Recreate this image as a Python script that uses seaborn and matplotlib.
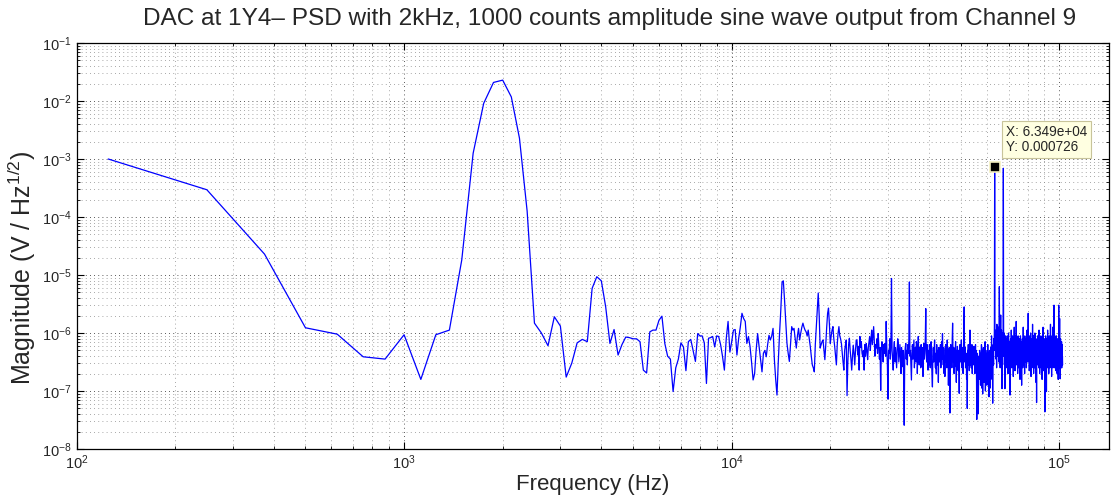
import numpy as np
import pandas as pd
import matplotlib
matplotlib.use("Agg")
import matplotlib.pyplot as plt
import matplotlib.ticker as mticker
import seaborn as sns

# ---------------- data ----------------
title_text = "DAC at 1Y4\u2013 PSD with 2kHz, 1000 counts amplitude sine wave output from Channel 9"
x_label = "Frequency (Hz)"
y_label = r"Magnitude (V / Hz$^{1/2}$)"

bin_step_hz = 124.98          # FFT bin spacing; bin k is at k * bin_step_hz
peak_bin = 508                # data-tip bin (1-based)

# log10 of magnitude (V/Hz^1/2) for bins 1..819
log_mag = [
    -3.00, -3.53, -4.64, -5.91, -6.02, -6.41, -6.45, -6.03, -6.80, -6.03,
    -5.95, -4.74, -2.90, -2.04, -1.68, -1.64, -1.93, -2.64, -3.90, -5.83,
    -6.00, -6.22, -5.72, -5.88, -6.76, -6.52, -6.17, -6.11, -6.15, -5.23,
    -5.03, -5.10, -5.55, -6.18, -5.94, -6.38, -6.20, -6.07, -6.08, -6.10,
    -6.10, -6.15, -6.64, -6.69, -5.98, -5.95, -5.95, -5.78, -5.71, -6.18,
    -6.40, -6.45, -7.01, -6.60, -6.45, -6.17, -6.24, -6.65, -6.15, -6.11,
    -6.30, -6.49, -6.01, -6.05, -6.05, -6.17, -6.87, -6.09, -6.08, -6.06,
    -6.24, -6.05, -6.06, -6.20, -6.40, -6.64, -6.10, -5.80, -6.33, -6.15,
    -5.95, -5.94, -6.38, -6.10, -5.90, -5.66, -5.75, -5.80, -6.18, -6.06,
    -6.23, -6.50, -6.81, -6.70, -6.30, -6.01, -6.23, -6.46, -6.67, -6.35,
    -6.30, -6.41, -6.20, -6.04, -6.12, -6.05, -5.92, -6.46, -6.80, -7.07,
    -6.50, -6.01, -5.60, -5.12, -5.10, -5.43, -5.80, -6.18, -6.35, -6.49,
    -6.20, -5.89, -5.95, -5.92, -6.10, -6.26, -6.05, -5.92, -6.12, -6.00,
    -5.90, -5.83, -5.90, -5.95, -5.98, -6.05, -5.95, -6.10, -6.23, -6.40,
    -6.55, -6.60, -6.67, -6.20, -5.89, -5.60, -5.31, -5.70, -6.26, -6.20,
    -6.15, -6.12, -6.30, -6.46, -6.20, -5.90, -5.66, -5.57, -5.85, -6.18,
    -6.05, -5.95, -5.89, -6.10, -6.23, -6.40, -6.55, -6.20, -6.00, -5.89,
    -6.05, -6.10, -6.18, -6.35, -6.50, -6.64, -6.30, -6.20, -6.12, -7.08,
    -6.50, -6.20, -6.09, -6.30, -6.45, -6.64, -6.40, -6.21, -6.35, -6.55,
    -6.30, -6.12, -6.12, -6.38, -6.23, -6.64, -6.06, -6.25, -6.15, -6.35,
    -6.41, -6.30, -6.64, -6.20, -6.40, -6.18, -6.30, -6.46, -6.25, -6.15,
    -6.06, -6.30, -6.10, -5.95, -6.20, -6.05, -5.89, -6.15, -6.40, -6.20,
    -6.26, -6.10, -6.35, -6.01, -6.20, -6.45, -6.25, -6.99, -6.30, -6.15,
    -6.26, -6.50, -6.20, -6.35, -6.18, -6.40, -5.80, -6.25, -6.55, -7.14,
    -6.30, -6.35, -6.10, -6.45, -6.20, -5.06, -6.30, -6.45, -6.64, -6.30,
    -6.15, -6.50, -6.25, -6.41, -6.60, -6.30, -6.10, -6.18, -6.50, -6.35,
    -6.20, -6.41, -6.70, -6.25, -6.45, -6.58, -6.30, -6.80, -7.59, -6.40,
    -6.25, -6.18, -6.45, -6.30, -6.55, -6.20, -6.35, -6.10, -5.12, -6.40,
    -6.30, -6.55, -6.81, -6.35, -6.20, -6.45, -6.30, -6.12, -6.60, -6.35,
    -6.25, -6.50, -6.15, -6.23, -6.70, -6.30, -6.06, -6.40, -6.55, -6.25,
    -6.35, -6.60, -6.20, -6.58, -6.40, -6.25, -6.75, -6.30, -6.18, -6.45,
    -6.30, -6.10, -5.58, -6.35, -6.50, -6.20, -6.45, -6.64, -6.30, -6.55,
    -6.20, -6.23, -6.60, -6.35, -6.15, -6.50, -6.70, -6.93, -6.40, -6.25,
    -6.50, -6.30, -6.12, -6.45, -6.60, -6.35, -6.70, -6.20, -6.40, -6.55,
    -6.30, -6.85, -6.25, -6.50, -6.35, -6.46, -6.20, -6.60, -6.30, -6.15,
    -6.45, -6.01, -6.35, -6.55, -6.25, -6.70, -6.40, -6.75, -6.30, -6.20,
    -6.50, -6.35, -6.60, -6.12, -6.45, -6.30, -6.90, -6.40, -6.25, -6.55,
    -7.38, -6.40, -6.20, -6.50, -6.30, -6.60, -6.10, -5.83, -6.35, -6.50,
    -6.25, -6.70, -6.40, -6.58, -6.30, -6.15, -6.45, -6.85, -6.30, -6.50,
    -6.23, -6.40, -6.65, -6.30, -6.55, -7.04, -6.35, -6.20, -6.50, -6.30,
    -6.45, -6.12, -6.60, -6.35, -6.25, -6.50, -6.70, -6.30, -5.80, -5.55,
    -6.30, -6.50, -6.25, -6.60, -6.46, -6.35, -6.80, -6.40, -7.30, -6.30,
    -6.55, -6.20, -6.45, -6.30, -6.65, -6.25, -5.95, -6.40, -6.55, -6.30,
    -6.60, -6.35, -6.20, -6.70, -6.41, -6.30, -6.55, -6.25, -6.23, -6.50,
    -6.35, -6.70, -6.40, -6.20, -6.55, -6.30, -6.64, -7.49, -6.50, -6.35,
    -6.60, -6.46, -7.39, -6.40, -6.55, -6.80, -6.30, -6.65, -6.45, -6.90,
    -6.35, -6.70, -6.20, -6.95, -6.50, -6.30, -7.05, -6.45, -6.25, -6.75,
    -6.40, -6.85, -6.30, -6.60, -6.15, -7.00, -6.50, -6.35, -6.70, -6.40,
    -6.90, -6.30, -6.55, -6.20, -6.80, -6.45, -6.35, -7.10, -6.50, -6.30,
    -6.60, -6.95, -6.40, -6.25, -6.70, -6.50, -6.05, -6.45, -6.80, -6.40,
    -7.21, -6.40, -6.20, -6.55, -6.10, -6.30, -5.90, -3.139, -6.00, -6.20,
    -6.30, -5.95, -6.45, -6.10, -6.60, -5.85, -6.25, -6.40, -6.05, -6.35,
    -6.15, -5.90, -6.50, -6.20, -5.20, -6.30, -6.05, -6.60, -6.20, -5.69,
    -6.35, -6.10, -5.95, -6.50, -6.96, -6.20, -6.00, -6.35, -6.10, -3.16,
    -6.10, -6.40, -6.00, -6.55, -6.20, -6.96, -6.30, -6.05, -6.45, -6.15,
    -6.35, -6.10, -6.60, -6.25, -6.05, -6.45, -6.20, -6.70, -6.30, -6.00,
    -6.40, -6.15, -6.55, -6.25, -6.80, -7.07, -6.30, -6.10, -6.45, -6.20,
    -5.95, -6.35, -6.60, -6.15, -6.30, -6.05, -6.50, -6.25, -6.75, -6.20,
    -6.40, -6.10, -5.90, -6.45, -6.30, -6.65, -6.15, -6.35, -6.05, -6.50,
    -5.80, -6.30, -6.55, -6.20, -6.40, -6.10, -6.70, -6.25, -6.05, -6.45,
    -6.20, -6.60, -6.35, -6.10, -6.50, -6.25, -6.80, -6.30, -6.05, -6.40,
    -6.15, -6.55, -6.35, -6.90, -6.20, -6.45, -6.10, -6.30, -6.60, -6.25,
    -5.90, -6.40, -6.20, -6.55, -6.05, -6.35, -6.70, -6.15, -6.45, -6.25,
    -6.10, -6.50, -6.30, -6.05, -6.60, -6.20, -6.40, -5.95, -6.35, -6.15,
    -6.50, -6.25, -5.66, -6.30, -6.10, -6.45, -6.20, -6.65, -6.35, -6.05,
    -6.40, -6.20, -6.55, -6.00, -6.30, -6.75, -6.15, -6.45, -6.25, -6.60,
    -6.10, -6.35, -5.85, -6.50, -6.20, -6.40, -6.05, -6.70, -6.30, -6.15,
    -6.45, -6.25, -6.60, -6.00, -6.35, -6.15, -6.50, -6.30, -6.85, -6.20,
    -6.40, -7.20, -6.25, -6.10, -6.45, -6.30, -6.05, -6.55, -6.20, -6.40,
    -6.15, -6.60, -6.30, -5.95, -6.45, -6.20, -6.70, -6.35, -6.10, -6.50,
    -6.25, -6.40, -6.05, -6.60, -6.30, -6.15, -6.55, -6.20, -6.80, -6.35,
    -6.10, -6.45, -6.25, -5.90, -6.50, -6.30, -6.65, -6.15, -6.40, -6.20,
    -6.55, -6.10, -7.36, -6.35, -6.20, -6.45, -6.05, -6.60, -6.30, -6.25,
    -7.01, -6.30, -6.10, -6.50, -6.20, -6.40, -5.95, -6.60, -6.25, -6.45,
    -6.15, -6.35, -6.70, -6.20, -6.05, -6.50, -6.30, -6.10, -6.60, -6.25,
    -6.40, -5.85, -6.30, -6.55, -6.15, -6.45, -6.20, -6.75, -6.35, -6.05,
    -6.50, -6.25, -6.40, -5.90, -6.60, -6.20, -6.35, -6.10, -6.50, -6.30,
    -5.52, -6.30, -6.60, -6.20, -6.40, -6.05, -6.55, -6.25, -6.10, -6.45,
    -6.20, -6.65, -6.35, -6.05, -6.50, -6.30, -6.15, -6.70, -6.25, -6.40,
    -6.10, -6.55, -6.30, -6.80, -6.20, -6.45, -5.52, -6.35, -6.60, -6.25,
    -6.40, -5.75, -6.55, -6.20, -6.79, -6.35, -6.10, -6.50, -6.30, -6.60,
    -6.25, -6.45, -6.15, -6.60, -6.35, -6.20, -6.50, -6.40, -6.55,
]

# ---------------- frame ----------------
bins = np.arange(1, len(log_mag) + 1)
df = pd.DataFrame({
    "freq": bins * bin_step_hz,
    "mag": np.power(10.0, np.array(log_mag)),
})

sns.set_theme(style="ticks")
plt.rcParams["font.family"] = ["Liberation Sans", "DejaVu Sans"]
plt.rcParams["mathtext.fontset"] = "custom"
plt.rcParams["mathtext.rm"] = "Liberation Sans"
plt.rcParams["mathtext.it"] = "Liberation Sans:italic"
plt.rcParams["mathtext.bf"] = "Liberation Sans:bold"

W, H = 1111, 498
fig = plt.figure(figsize=(W / 100, H / 100), dpi=100)
fig.patch.set_facecolor("white")
ax_left, ax_right, ax_top, ax_bottom = 76.5, 1109.0, 43.0, 449.0
ax_w, ax_h = ax_right - ax_left, ax_bottom - ax_top
ax = fig.add_axes([ax_left / W, 1 - ax_bottom / H, ax_w / W, ax_h / H])

sns.lineplot(data=df, x="freq", y="mag", ax=ax, color="#0000ff",
             linewidth=0.9, estimator=None, sort=False, legend=False)

ax.set_xscale("log")
ax.set_yscale("log")
ax.set_xlim(1e2, 10 ** (2 + ax_w / 327.6))
ax.set_ylim(1e-8, 1e-1)

ax.xaxis.set_major_locator(mticker.LogLocator(base=10, numticks=20))
ax.yaxis.set_major_locator(mticker.LogLocator(base=10, numticks=20))
ax.xaxis.set_minor_locator(mticker.LogLocator(base=10, subs=np.arange(2, 10), numticks=50))
ax.yaxis.set_minor_locator(mticker.LogLocator(base=10, subs=np.arange(2, 10), numticks=50))
ax.xaxis.set_minor_formatter(mticker.NullFormatter())
ax.yaxis.set_minor_formatter(mticker.NullFormatter())

ax.grid(which="major", linestyle=(0, (1, 4)), color="#222222", linewidth=0.6)
ax.grid(which="minor", linestyle=(0, (1, 4)), color="#8a8a8a", linewidth=0.6)
ax.set_axisbelow(True)

ax.tick_params(which="both", direction="in", top=True, right=True,
               color="black", labelsize=10.5)
ax.tick_params(which="major", length=5, width=0.8)
ax.tick_params(which="minor", length=2.5, width=0.6)
for s in ax.spines.values():
    s.set_color("black")
    s.set_linewidth(0.9)

ax.set_xlabel(x_label, fontsize=16)
ax.xaxis.label.set_va("center")
ax.xaxis.set_label_coords(0.5, (ax_bottom - 484) / ax_h)
ax.set_ylabel(y_label, fontsize=18)
ax.yaxis.label.set_va("center")
ax.yaxis.set_label_coords((22 - ax_left) / ax_w, (ax_bottom - 268) / ax_h)
fig.text(610 / W, 1 - 19 / H, title_text, ha="center", va="center", fontsize=17.6)

# ---------------- data tip ----------------
px = df["freq"].iloc[peak_bin - 1]
py = df["mag"].iloc[peak_bin - 1]
ax.plot([px], [py], marker="s", markersize=6.5, markerfacecolor="black",
        markeredgecolor="#f3efc0", markeredgewidth=1.2, zorder=6)
ax.annotate(f"X: {px:.4g}\nY: {py:.3g}", xy=(px, py), xytext=(11, 13),
            textcoords="offset pixels", ha="left", va="bottom", fontsize=9.8,
            linespacing=1.1, zorder=7,
            bbox=dict(boxstyle="square,pad=0.3", facecolor="#ffffe1",
                      edgecolor="#c8c49a", linewidth=0.8))

fig.savefig("out.png", dpi=100, facecolor="white")
